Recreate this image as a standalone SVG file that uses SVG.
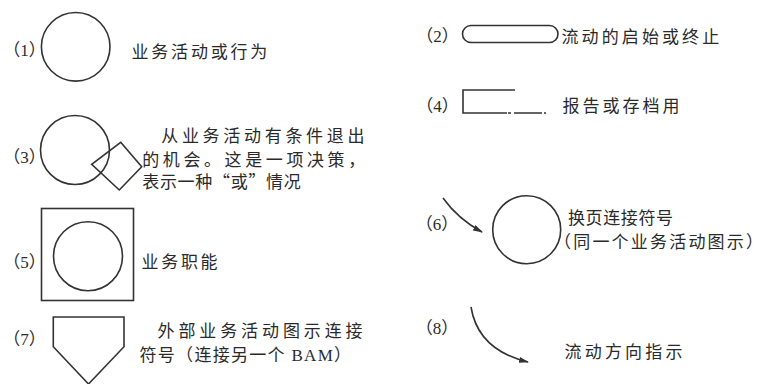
<svg xmlns="http://www.w3.org/2000/svg" width="766" height="384" viewBox="0 0 766 384">
<style>
.s{fill:none;stroke:#333;stroke-width:1.6}
.t{font-family:"Noto Sans CJK SC","Liberation Sans",sans-serif;font-size:17px;fill:#2a2a2a}
.tm{font-family:"Liberation Serif","Noto Sans CJK SC",serif;font-size:17px;fill:#2a2a2a}
.n{font-family:"Liberation Serif","Noto Sans CJK SC",serif;font-size:17px;fill:#2a2a2a;text-anchor:middle}
</style>
<defs>
<marker id="ah" viewBox="0 0 10 6" markerWidth="10" markerHeight="6" refX="9" refY="3" orient="auto" markerUnits="userSpaceOnUse">
<path d="M0,0 L10,3 L0,6 z" fill="#333"/>
</marker>
</defs>
<rect width="766" height="384" fill="#fff"/>

<g id="item1">
<text class="n" x="24.5" y="56">（1）</text>
<circle class="s" cx="75.7" cy="46.8" r="34.3"/>
<text class="t" x="131.5" y="57.8" style="letter-spacing:2.8px">业务活动或行为</text>
</g>

<g id="item3">
<text class="n" x="24.5" y="162.7">（3）</text>
<circle class="s" cx="75" cy="150" r="34.5"/>
<polygon class="s" points="120.7,142.3 141.7,166.7 119.3,190 91.7,164.3"/>
<text class="t" x="161.2" y="142" style="letter-spacing:3.7px">从业务活动有条件退出</text>
<text class="t" x="142.2" y="165.5" style="letter-spacing:3.6px">的机会。这是一项决策，</text>
<text class="t" x="142.2" y="188" style="letter-spacing:0.7px">表示一种“或”情况</text>
</g>

<g id="item5">
<text class="n" x="24.5" y="267.5">（5）</text>
<rect class="s" x="41.5" y="208.5" width="92" height="92"/>
<circle class="s" cx="88" cy="256.2" r="34.5"/>
<text class="t" x="141.5" y="268" style="letter-spacing:2.7px">业务职能</text>
</g>

<g id="item7">
<text class="n" x="24.5" y="345">（7）</text>
<polygon class="s" points="53.3,317 124,317 124,346.7 88.5,384 53.3,346.7"/>
<text class="t" x="157.5" y="336.5" style="letter-spacing:3.9px">外部业务活动图示连接</text>
<text class="tm" x="139.5" y="360.5" style="letter-spacing:1.3px">符号（连接另一个 BAM）</text>
</g>

<g id="item2">
<text class="n" x="437.5" y="42">（2）</text>
<rect class="s" x="462.5" y="25.5" width="95.5" height="17" rx="8.5"/>
<text class="t" x="561.5" y="43.2" style="letter-spacing:3.1px">流动的启始或终止</text>
</g>

<g id="item4">
<text class="n" x="437.5" y="112">（4）</text>
<path class="s" d="M515,90 H463 V113 H507"/>
<path class="s" d="M508,113 H546" stroke-dasharray="3 3 28 2"/>
<text class="t" x="562.5" y="111.5" style="letter-spacing:3px">报告或存档用</text>
</g>

<g id="item6">
<text class="n" x="437" y="229.5">（6）</text>
<circle class="s" cx="526.7" cy="229.7" r="34"/>
<text class="t" x="568" y="223.5" style="letter-spacing:0.6px">换页连接符号</text>
<text class="t" x="554" y="247.5" style="letter-spacing:2.2px">（同一个业务活动图示）</text>
</g>

<g id="item8">
<text class="n" x="437" y="333.5">（8）</text>
<text class="t" x="564.5" y="358" style="letter-spacing:3.2px">流动方向指示</text>
</g>

<g id="connectors">
<path class="s" d="M443,198 Q458,219 482,232" marker-end="url(#ah)"/>
<path class="s" d="M471,307 Q478,350 528,362" marker-end="url(#ah)"/>
</g>
</svg>
